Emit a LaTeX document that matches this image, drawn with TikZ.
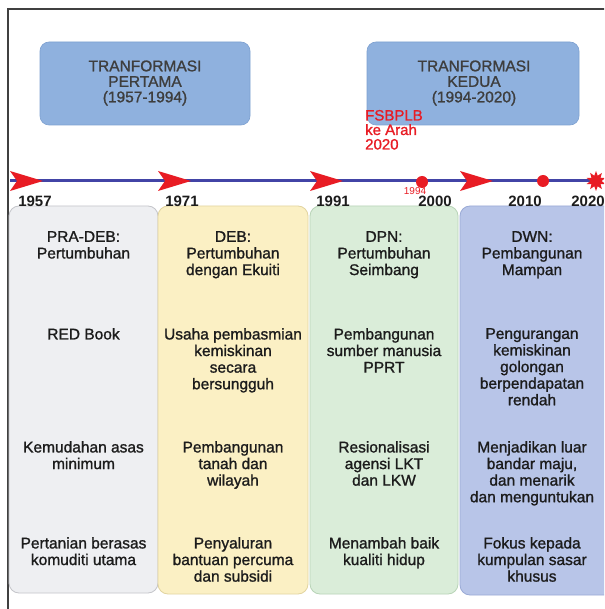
\documentclass[tikz,border=0pt]{standalone}
\usepackage{fontspec}
\setmainfont{Liberation Sans}
\newfontfamily\medfont[FakeBold=1.2]{Liberation Sans}
\usetikzlibrary{shapes.geometric}
\definecolor{topbox}{RGB}{143,177,222}
\definecolor{topboxline}{RGB}{125,160,208}
\definecolor{tline}{RGB}{66,68,166}
\definecolor{tred}{RGB}{232,28,36}
\definecolor{cAfill}{RGB}{238,239,242}
\definecolor{cAline}{RGB}{196,197,202}
\definecolor{cBfill}{RGB}{251,240,196}
\definecolor{cBline}{RGB}{226,212,160}
\definecolor{cCfill}{RGB}{218,237,217}
\definecolor{cCline}{RGB}{184,212,183}
\definecolor{cDfill}{RGB}{184,197,232}
\definecolor{cDline}{RGB}{154,170,214}
\definecolor{txt}{RGB}{28,28,28}
\tikzset{
  tbox/.style={fill=topbox, draw=topboxline, line width=0.6pt, rounded corners=9pt},
  colbox/.style={rounded corners=10pt, line width=0.8pt},
  coltext/.style={anchor=north, inner sep=0pt, align=center, text=txt,
    font=\medfont\fontsize{15.5}{16.6}\selectfont},
  toptext/.style={align=center, inner sep=0pt, text=txt!85,
    font=\medfont\fontsize{15.5}{15.5}\selectfont},
  yearlbl/.style={anchor=base, inner sep=0pt, text=txt,
    font=\bfseries\fontsize{15}{16}\selectfont},
  dart/.style={fill=tred, draw=none},
  dotmark/.style={circle, fill=tred, inner sep=0pt, minimum size=12pt},
}
\begin{document}
\begin{tikzpicture}[x=1pt,y=-1pt]
\clip (0,0) rectangle (604,609);
\fill[white] (0,0) rectangle (604,609);
% frame
\draw[line width=1.2pt, black!75] (8,612) -- (8,9) -- (612,9);
% top boxes
\draw[tbox] (40,42) rectangle (250,125);
\node[toptext] (t1) at (145,83) {TRANFORMASI\\PERTAMA\\(1957-1994)};
\draw[tbox] (367,42) rectangle (579,125);
\node[toptext] (t2) at (474,83) {TRANFORMASI\\KEDUA\\(1994-2020)};
% columns
\draw[colbox, fill=cAfill, draw=cAline] (9,206) rectangle (158,593);
\draw[colbox, fill=cBfill, draw=cBline] (158,206) rectangle (308,594);
\draw[colbox, fill=cCfill, draw=cCline] (310,206) rectangle (458,594);
\draw[colbox, fill=cDfill, draw=cDline] (460,206) rectangle (616,595);
% timeline
\coordinate (ls) at (10,181);
\coordinate (le) at (600,181);
\draw[line width=3pt, tline] (ls) -- (le);
\foreach \x in {10,158,310,460}{
  \fill[dart] (\x,171) -- (\x+33,181) -- (\x,191) -- (\x+7,181) -- cycle;
}
\node[dotmark] (d94) at (422,182) {};
\node[dotmark] (d10) at (543,181) {};
\node[star, star points=10, star point ratio=1.8, fill=tred, inner sep=0pt, minimum size=20pt] (s20) at (596,181) {};
% FSBPLB
\node[anchor=base west, inner sep=0pt, text=tred, align=left, font=\medfont\fontsize{15}{14.5}\selectfont] (fs) at (365,149.5) {FSBPLB\\ke Arah\\2020};
\node[anchor=base, inner sep=0pt, text=tred, font=\fontsize{10}{10}\selectfont] (y94) at (415,195) {1994};
% year labels
\node[yearlbl] (y1) at (35,207) {1957};
\node[yearlbl] (y2) at (182,207) {1971};
\node[yearlbl] (y3) at (333,207) {1991};
\node[yearlbl] (y4) at (435,207) {2000};
\node[yearlbl] (y5) at (525,207) {2010};
\node[yearlbl] (y6) at (588,207) {2020};
% column 1
\node[coltext] (a1) at (83.5,231) {PRA-DEB:\\Pertumbuhan};
\node[coltext] (a2) at (83.5,328) {RED Book};
\node[coltext] (a3) at (83.5,441) {Kemudahan asas\\minimum};
\node[coltext] (a4) at (83.5,537) {Pertanian berasas\\komuditi utama};
% column 2
\node[coltext] (b1) at (233,231) {DEB:\\Pertumbuhan\\dengan Ekuiti};
\node[coltext] (b2) at (233,328) {Usaha pembasmian\\kemiskinan\\secara\\bersungguh};
\node[coltext] (b3) at (233,441) {Pembangunan\\tanah dan\\wilayah};
\node[coltext] (b4) at (233,537) {Penyaluran\\bantuan percuma\\dan subsidi};
% column 3
\node[coltext] (c1) at (384,231) {DPN:\\Pertumbuhan\\Seimbang};
\node[coltext] (c2) at (384,328) {Pembangunan\\sumber manusia\\PPRT};
\node[coltext] (c3) at (384,441) {Resionalisasi\\agensi LKT\\dan LKW};
\node[coltext] (c4) at (384,537) {Menambah baik\\kualiti hidup};
% column 4
\node[coltext] (e1) at (532,231) {DWN:\\Pembangunan\\Mampan};
\node[coltext] (e2) at (532,328) {Pengurangan\\kemiskinan\\golongan\\berpendapatan\\rendah};
\node[coltext] (e3) at (532,441) {Menjadikan luar\\bandar maju,\\dan menarik\\dan menguntukan};
\node[coltext] (e4) at (532,537) {Fokus kepada\\kumpulan sasar\\khusus};
\end{tikzpicture}
\end{document}
